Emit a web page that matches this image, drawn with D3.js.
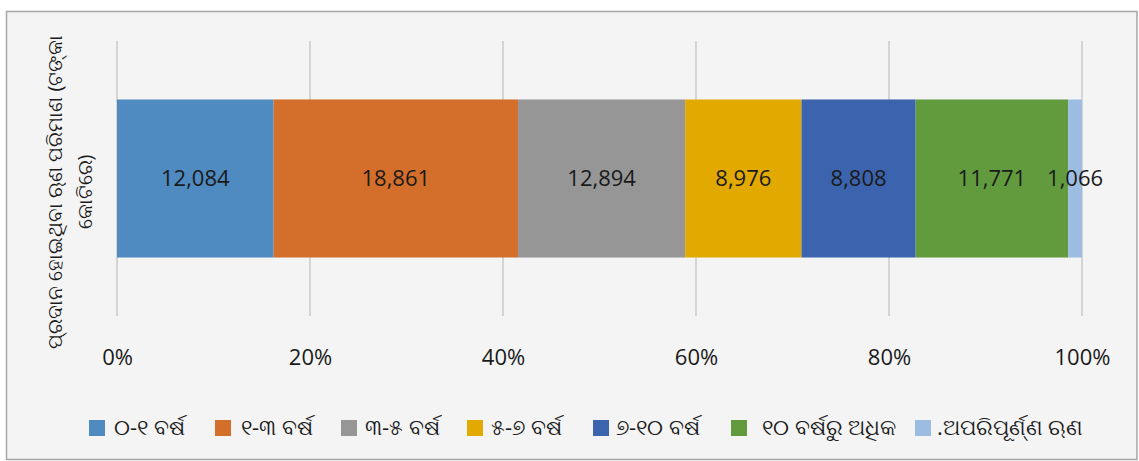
<!DOCTYPE html>
<html>
<head>
<meta charset="utf-8">
<script src="https://cdn.jsdelivr.net/npm/d3@7"></script>
<style>
  html, body { margin: 0; padding: 0; background: #ffffff; }
  svg { display: block; }
  text { font-family: "Open Sans", "Noto Sans", "DejaVu Sans", sans-serif; fill: #1a1a1a; }
</style>
</head>
<body>
<svg id="chart" width="1139" height="461"></svg>
<script>
const categories = ['୦-୧ ବର୍ଷ', '୧-୩ ବର୍ଷ', '୩-୫ ବର୍ଷ', '୫-୭ ବର୍ଷ', '୭-୧୦ ବର୍ଷ', '୧୦ ବର୍ଷରୁ ଅଧିକ', '.ଅପରିପୂର୍ଣ୍ଣ ଋଣ'];
const values = [12084, 18861, 12894, 8976, 8808, 11771, 1066];
const colors = ['#4f8bc0', '#d46f2b', '#969696', '#e2aa00', '#3c64ae', '#629b3e', '#9dbce2'];
const tickValues = [0, 0.2, 0.4, 0.6, 0.8, 1];
const yLabelLines = ['ପ୍ରଦାନ ହୋଇଥିବା ଋଣ ପରିମାଣ (ଟଙ୍କା', 'କୋଟିରେ)'];

const svg = d3.select('#chart');
const margin = { left: 117, right: 57, top: 41, bottom: 145 };
const width = 1139 - margin.left - margin.right;
const plotH = 461 - margin.top - margin.bottom;

// frame
svg.append('rect')
  .attr('x', 6.5).attr('y', 11.5)
  .attr('width', 1130.5).attr('height', 448)
  .attr('fill', '#f4f4f4')
  .attr('stroke', '#a6a6a6')
  .attr('stroke-width', 1.5);

const main = svg.append('g')
  .attr('transform', `translate(${margin.left},${margin.top})`);

const total = d3.sum(values);
const x = d3.scaleLinear().domain([0, 1]).range([0, width]);
const y = d3.scaleBand().domain(['bar']).range([0, plotH]).paddingInner(0).paddingOuter(0.37);

// gridlines
main.append('g')
  .selectAll('line')
  .data(tickValues)
  .join('line')
  .attr('x1', d => x(d)).attr('x2', d => x(d))
  .attr('y1', 0).attr('y2', plotH)
  .attr('stroke', '#bfbfbf')
  .attr('stroke-width', 1.2);

// stacked segments
let acc = 0;
const segs = values.map((v, i) => {
  const s = { v, i, x0: acc / total, x1: (acc + v) / total };
  acc += v;
  return s;
});

main.append('g')
  .selectAll('rect')
  .data(segs)
  .join('rect')
  .attr('x', d => x(d.x0))
  .attr('width', d => x(d.x1) - x(d.x0))
  .attr('y', y('bar'))
  .attr('height', y.bandwidth())
  .attr('fill', d => colors[d.i]);

main.append('g')
  .selectAll('text')
  .data(segs)
  .join('text')
  .attr('x', d => (x(d.x0) + x(d.x1)) / 2)
  .attr('y', y('bar') + y.bandwidth() / 2)
  .attr('dy', '0.35em')
  .attr('text-anchor', 'middle')
  .style('font-size', '22px')
  .text(d => d3.format(',')(d.v));

// x axis
const xAxis = main.append('g')
  .attr('transform', `translate(0,${plotH})`)
  .call(d3.axisBottom(x).tickValues(tickValues).tickFormat(d3.format('.0%')).tickSize(0).tickPadding(33));
xAxis.select('.domain').remove();
xAxis.selectAll('text')
  .style('font-size', '22px')
  .attr('fill', '#1a1a1a');

// y label
const yl = svg.append('text')
  .attr('transform', `translate(55,192) rotate(-90)`)
  .attr('text-anchor', 'middle')
  .style('font-size', '20px');
yl.selectAll('tspan')
  .data(yLabelLines)
  .join('tspan')
  .attr('x', 0)
  .attr('dy', (d, i) => i === 0 ? '0.35em' : '1.5em')
  .text(d => d);

// legend
const legendX = [89, 215, 341, 467, 593, 731, 915];
const legendText = [25, 26, 24, 24, 23, 31, 22];
const legend = svg.append('g')
  .selectAll('g')
  .data(categories)
  .join('g')
  .attr('transform', (d, i) => `translate(${legendX[i]},420)`);
legend.append('rect')
  .attr('width', 16).attr('height', 16)
  .attr('fill', (d, i) => colors[i]);
legend.append('text')
  .attr('x', (d, i) => legendText[i])
  .attr('y', 8)
  .attr('dy', '0.3em')
  .style('font-size', '22px')
  .text(d => d);
</script>
</body>
</html>
